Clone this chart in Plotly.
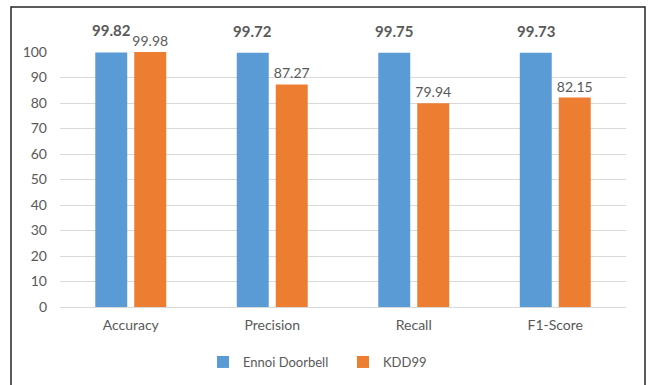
import plotly.graph_objects as go

categories = ["Accuracy", "Precision", "Recall", "F1-Score"]
ennoi_doorbell = [99.82, 99.72, 99.75, 99.73]
kdd99 = [99.98, 87.27, 79.94, 82.15]
y_ticks = list(range(0, 101, 10))

BLUE = "#5B9BD5"
ORANGE = "#ED7D31"
FONT = "Lato, 'Open Sans', sans-serif"
GRAY = "#595959"

fig = go.Figure()
fig.add_trace(go.Bar(
    x=categories, y=ennoi_doorbell, name="Ennoi Doorbell",
    marker=dict(color=BLUE, line=dict(width=0)),
))
fig.add_trace(go.Bar(
    x=categories, y=kdd99, name="KDD99",
    marker=dict(color=ORANGE, line=dict(width=0)),
    text=[f"{v:.2f}" for v in kdd99], textposition="outside",
    textfont=dict(family=FONT, size=14, color=GRAY),
    constraintext="none", cliponaxis=False,
))

for c, v in zip(categories, ennoi_doorbell):
    fig.add_annotation(
        x=c, y=v, xref="x", yref="y", text=f"<b>{v:.2f}</b>",
        showarrow=False, xshift=-19.5, yanchor="bottom", yshift=11,
        font=dict(family=FONT, size=15, color=GRAY),
    )

L, R, T, B = 60, 25, 52, 78
W, H = 651, 385
pw, ph = W - L - R, H - T - B

fig.add_shape(
    type="rect", xref="paper", yref="paper",
    x0=(11 - L) / pw, x1=(645 - L) / pw,
    y0=(H - B - 392) / ph, y1=(H - B - 7) / ph,
    line=dict(color="#262626", width=1.5), fillcolor="rgba(0,0,0,0)",
    layer="below",
)

fig.update_layout(
    width=W, height=H,
    margin=dict(l=L, r=R, t=T, b=B, autoexpand=False),
    paper_bgcolor="white", plot_bgcolor="white",
    barmode="group", bargap=0.449, bargroupgap=0.18,
    font=dict(family=FONT, size=14, color=GRAY),
    showlegend=True,
    legend=dict(
        orientation="h", x=0.5, xanchor="center",
        yref="container", y=(H - 362) / H, yanchor="middle",
        font=dict(family=FONT, size=13, color=GRAY),
        itemwidth=30, traceorder="normal", entrywidth=95,
    ),
    xaxis=dict(
        showgrid=False, showline=False, ticks="",
        tickfont=dict(family=FONT, size=14, color=GRAY),
        ticklabelstandoff=8, automargin=False,
    ),
    yaxis=dict(
        range=[0, 100.0001], tickvals=y_ticks,
        showgrid=True, gridcolor="#D9D9D9", gridwidth=1,
        zeroline=True, zerolinecolor="#D9D9D9", zerolinewidth=1,
        showline=False, ticks="",
        tickfont=dict(family=FONT, size=14, color=GRAY),
        ticklabelstandoff=12, automargin=False,
    ),
)

fig.write_html("out.html")
